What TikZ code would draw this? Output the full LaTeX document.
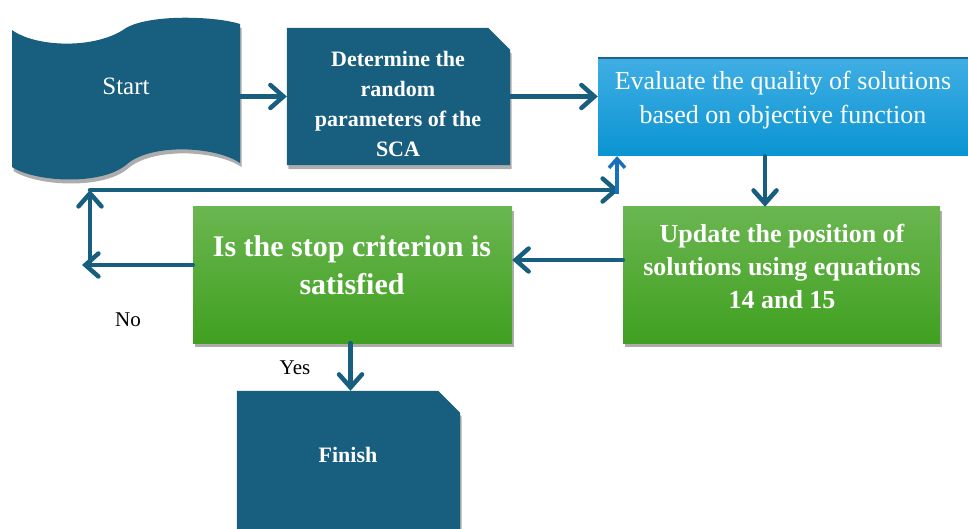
\documentclass[tikz,border=0pt]{standalone}
\usepackage{fontspec}
\setmainfont{Liberation Serif}
\usetikzlibrary{arrows.meta,shadows}
\definecolor{dblue}{RGB}{24,94,126}
\definecolor{lblueT}{RGB}{64,174,228}
\definecolor{lblueB}{RGB}{10,148,210}
\definecolor{lblueEdge}{RGB}{30,100,140}
\definecolor{greenT}{RGB}{106,182,80}
\definecolor{greenB}{RGB}{64,160,32}
\definecolor{upblue}{RGB}{22,112,190}
\tikzset{
  arr/.style={draw=dblue, line width=4.5pt, line cap=round,
    -{Straight Barb[length=13pt,width=23pt,line cap=round]}},
  uparr/.style={draw=upblue, line width=3.5pt,
    -{Straight Barb[length=9pt,width=16pt]}},
  shad/.style={drop shadow={shadow xshift=1.5pt, shadow yshift=-4pt, fill=black!40, opacity=0.8}},
  frame/.style={rectangle, inner sep=0pt, minimum width=#1},
  greenbox/.style={rectangle, inner sep=0pt, top color=greenT, bottom color=greenB, shad},
  wtxt/.style={text=white, align=center, inner sep=0pt},
  lbl/.style={text=black, inner sep=0pt, font=\fontsize{21}{24}\selectfont},
}
\begin{document}
\begin{tikzpicture}[x=1pt,y=-1pt]
\useasboundingbox (0,0) rectangle (968,529);

% Start (punched tape)
\fill[dblue, shad] (12,30) .. controls (35,47) and (95,50) .. (126,28)
  .. controls (150,14) and (215,16) .. (240,24) -- (240,163)
  .. controls (215,146) and (150,143) .. (126,165)
  .. controls (100,186) and (35,182) .. (12,167) -- cycle;
\node[frame=228pt, minimum height=150pt] (start) at (126,97) {};
\node[wtxt, font=\fontsize{25}{30}\selectfont] (starttxt) at (126,86) {Start};

% Determine
\node[frame=223pt, minimum height=137pt] (det) at (398.5,96.5) {};
\fill[dblue, shad] (det.south west) -- (det.north west) -- ([xshift=-22pt]det.north east)
  -- ([yshift=-22pt]det.north east) -- (det.south east) -- cycle;
\node[wtxt, font=\bfseries\fontsize{22}{29.7}\selectfont] (dettxt) at (398,104)
  {Determine the\\random\\parameters of the\\SCA};

% Evaluate
\node[rectangle, inner sep=0pt, minimum width=370pt, minimum height=98pt,
  top color=lblueT, bottom color=lblueB] (eval) at (783,107) {};
\draw[lblueEdge, line width=2pt] (eval.north west) -- (eval.north east);
\node[wtxt, font=\fontsize{26}{34}\selectfont] (evaltxt) at (783,100)
  {Evaluate the quality of solutions\\based on objective function};

% Update
\node[greenbox, minimum width=317pt, minimum height=136pt] (upd) at (781.5,275) {};
\node[wtxt, font=\bfseries\fontsize{26}{33}\selectfont] (updtxt) at (782,266)
  {Update the position of\\solutions using equations\\14 and 15};

% Is the stop criterion
\node[greenbox, minimum width=319pt, minimum height=136pt] (is) at (352.5,275) {};
\node[wtxt, font=\bfseries\fontsize{30}{38}\selectfont] (istxt) at (352,265)
  {Is the stop criterion is\\satisfied};

% Finish
\node[frame=223pt, minimum height=140pt] (fin) at (348.5,461) {};
\fill[dblue, shad] (fin.south west) -- (fin.north west) -- ([xshift=-22pt]fin.north east)
  -- ([yshift=-22pt]fin.north east) -- (fin.south east) -- cycle;
\node[wtxt, font=\bfseries\fontsize{22}{26}\selectfont] (fintxt) at (348,455) {Finish};

% labels
\node[lbl] (no) at (128,320) {No};
\node[lbl] (yes) at (295,368) {Yes};

% connectors
\draw[arr] (start.east |- det.west) -- (det.west);
\draw[arr] (det.east) -- (det.east -| eval.west);
\draw[arr] ([xshift=-18pt]eval.south) -- ([xshift=-18pt]eval.south |- upd.north);
\draw[arr] ([yshift=15pt]upd.west) -- ([yshift=15pt]upd.west -| is.east);
\coordinate (nol) at (82,265);
\coordinate (lb) at (90,265);
\coordinate (lt) at (90,190);
\coordinate (rt) at (619,190);
\coordinate (ub) at (617,194);
\draw[arr] ([yshift=10pt]is.west) -- (nol);
\draw[arr] (lb) -- (lt);
\draw[arr] (lt) -- (rt);
\draw[uparr] (ub) -- (ub |- eval.south);
\draw[arr] ([xshift=-2pt]is.south) -- ([xshift=-2pt]is.south |- fin.north);
\end{tikzpicture}
\end{document}
